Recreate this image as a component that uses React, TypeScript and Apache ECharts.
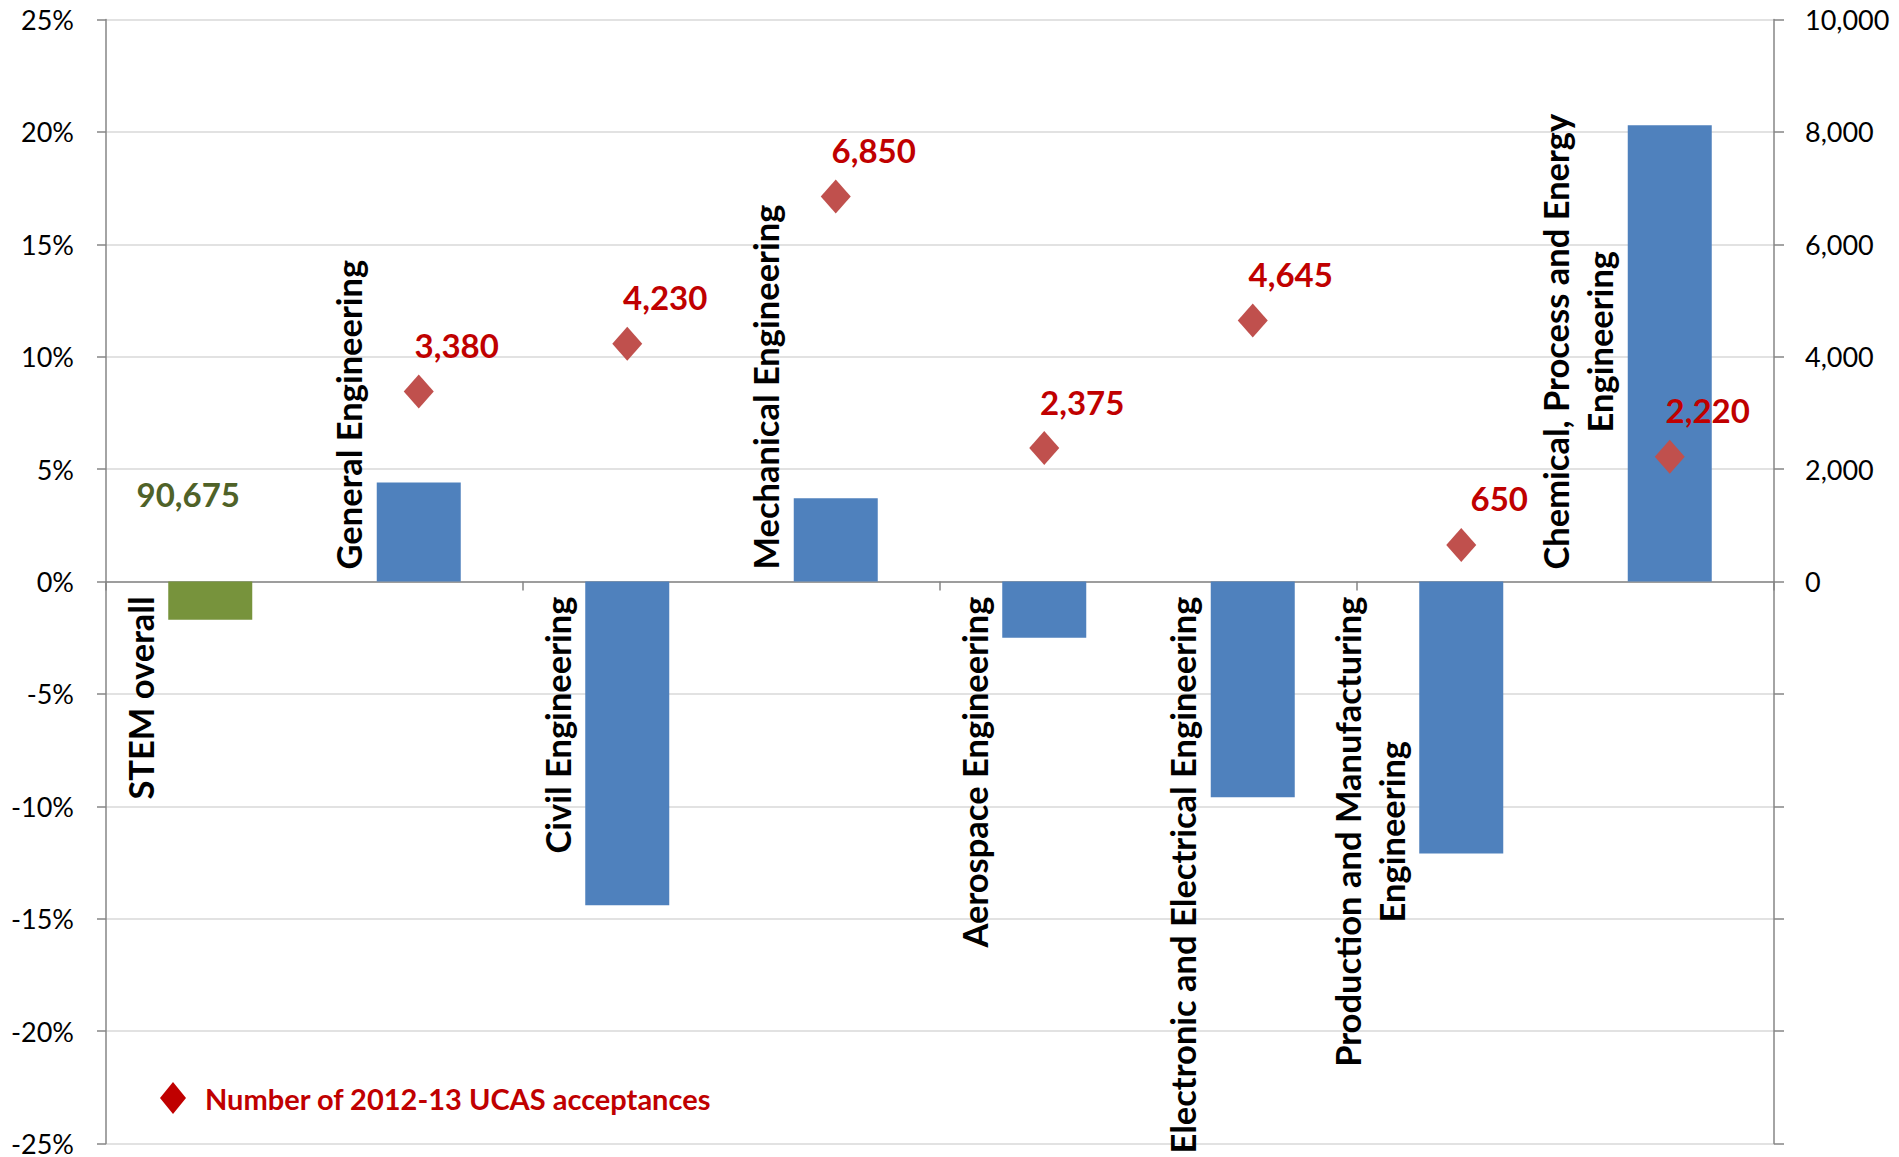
import React, { useEffect, useRef } from "react";
import * as echarts from "echarts";

// ---- Data ----
const categories: string[] = [
  "STEM overall",
  "General Engineering",
  "Civil Engineering",
  "Mechanical Engineering",
  "Aerospace Engineering",
  "Electronic and Electrical Engineering",
  "Production and Manufacturing\nEngineering",
  "Chemical, Process and Energy\nEngineering",
];
// % change (left axis)
const changePct: number[] = [-1.7, 4.4, -14.4, 3.7, -2.5, -9.6, -12.1, 20.3];
// Number of 2012-13 UCAS acceptances (right axis)
const acceptances: number[] = [90675, 3380, 4230, 6850, 2375, 4645, 650, 2220];
const seriesName = "Number of 2012-13 UCAS acceptances";

const leftMin = -25;
const leftMax = 25;
const leftInterval = 5;
const rightMin = -10000;
const rightMax = 10000;
const rightInterval = 2000;

const FONT = "Lato, 'Open Sans', sans-serif";
const TICK_FS = 27;
const CAT_FS = 34.5;
const CAT_LH = 44;
const DATA_FS = 33;
const LEGEND_FS = 29;

const fmt = (v: number) => v.toLocaleString("en-US");

let ctx: CanvasRenderingContext2D | null = null;
function measure(text: string, font: string): number {
  if (!ctx) ctx = document.createElement("canvas").getContext("2d");
  if (!ctx) return text.length * 16;
  ctx.font = font;
  return Math.max(...text.split("\n").map((l) => ctx!.measureText(l).width));
}

export default function App() {
  const ref = useRef<HTMLDivElement>(null);

  useEffect(() => {
    document.body.style.margin = "0";
    document.body.style.overflow = "hidden";
    if (!ref.current) return;
    const chart = echarts.init(ref.current, null, { renderer: "svg" });

    const catFont = `bold ${CAT_FS}px ${FONT}`;

    const option: any = {
      animation: false,
      backgroundColor: "#ffffff",
      textStyle: { fontFamily: FONT },
      grid: { left: 106, right: 125, top: 19.5, bottom: 12.5, containLabel: false },
      legend: {
        left: 160,
        top: 1082,
        padding: 0,
        itemWidth: 26,
        itemHeight: 32,
        data: [
          { name: seriesName, icon: "diamond", itemStyle: { color: "#C00000", opacity: 1 } },
        ],
        textStyle: {
          color: "#C00000",
          fontWeight: "bold",
          fontSize: LEGEND_FS,
          fontFamily: FONT,
          padding: [0, 0, 0, 14],
        },
      },
      xAxis: {
        type: "category",
        data: categories,
        axisLabel: { show: false },
        axisLine: { onZero: true, lineStyle: { color: "#868686", width: 1.5 } },
        axisTick: { show: true, length: 9, lineStyle: { color: "#868686", width: 1.5 } },
        splitLine: { show: false },
      },
      yAxis: [
        {
          type: "value",
          min: leftMin,
          max: leftMax,
          interval: leftInterval,
          axisLabel: {
            formatter: "{value}%",
            fontSize: TICK_FS,
            color: "#000",
            fontFamily: FONT,
            margin: 32,
          },
          axisLine: { show: true, lineStyle: { color: "#868686", width: 1.5 } },
          axisTick: { show: true, length: 9, lineStyle: { color: "#868686", width: 1.5 } },
          splitLine: { show: true, lineStyle: { color: "#D9D9D9", width: 1.5 } },
        },
        {
          type: "value",
          min: rightMin,
          max: rightMax,
          interval: rightInterval,
          position: "right",
          axisLabel: {
            formatter: (v: number) => (v < 0 ? "" : fmt(v)),
            fontSize: TICK_FS,
            color: "#000",
            fontFamily: FONT,
            margin: 31,
          },
          axisLine: { show: true, lineStyle: { color: "#868686", width: 1.5 } },
          axisTick: { show: true, length: 10, lineStyle: { color: "#868686", width: 1.5 } },
          splitLine: { show: false },
        },
      ],
      series: [
        {
          type: "bar",
          name: "change",
          yAxisIndex: 0,
          barWidth: 84,
          data: changePct.map((v, i) => ({
            value: v,
            itemStyle: { color: i === 0 ? "#77933C" : "#4F81BD" },
          })),
          z: 2,
        },
        {
          type: "scatter",
          name: seriesName,
          yAxisIndex: 1,
          symbol: "diamond",
          symbolSize: [30, 34],
          itemStyle: { color: "#C0504D", opacity: 1 },
          data: acceptances.map((v, i) => (i === 0 ? "-" : v)),
          label: {
            show: true,
            position: "top",
            distance: 13,
            offset: [38, 0],
            formatter: (p: any) => fmt(Number(p.value)),
            color: "#C00000",
            fontWeight: "bold",
            fontSize: DATA_FS,
            fontFamily: FONT,
          },
          z: 4,
        },
        {
          type: "custom",
          name: "labels",
          yAxisIndex: 0,
          clip: false,
          silent: true,
          z: 5,
          data: changePct.map((v, i) => [i, v]),
          renderItem: (params: any, api: any) => {
            const i = api.value(0);
            const v = api.value(1);
            const base = api.coord([i, 0]);
            const text = categories[i];
            const w = measure(text, catFont);
            const cy = v >= 0 ? base[1] - 12 - w / 2 : base[1] + 15 + w / 2;
            const children: any[] = [
              {
                type: "text",
                x: base[0] - 48,
                y: cy,
                rotation: Math.PI / 2,
                style: {
                  text,
                  fill: "#000",
                  font: catFont,
                  align: "center",
                  verticalAlign: "bottom",
                  lineHeight: CAT_LH,
                },
              },
            ];
            if (i === 0) {
              children.push({
                type: "text",
                x: base[0] - 22,
                y: base[1] - 88,
                style: {
                  text: fmt(acceptances[0]),
                  fill: "#4F6228",
                  font: `bold ${DATA_FS}px ${FONT}`,
                  align: "center",
                  verticalAlign: "middle",
                },
              });
            }
            return { type: "group", children };
          },
        },
      ],
    };

    chart.setOption(option);
    return () => chart.dispose();
  }, []);

  return <div ref={ref} style={{ width: "1899px", height: "1157px" }} />;
}
